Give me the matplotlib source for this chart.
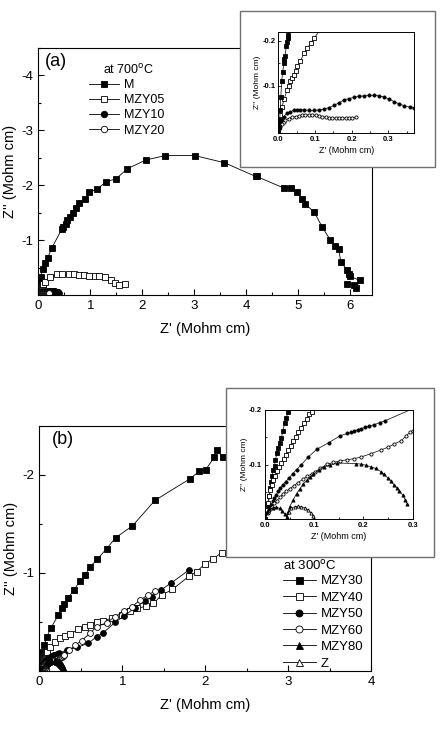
import numpy as np
import matplotlib
matplotlib.use('Agg')
import matplotlib.pyplot as plt
from matplotlib.patches import Rectangle
from matplotlib.ticker import MultipleLocator, FixedLocator

plt.rcParams['font.family'] = ['Liberation Sans', 'DejaVu Sans']
plt.rcParams['axes.unicode_minus'] = False

# ── panel (a) data, 700 C ──────────────────────────────────────────────────────
M_x = [0, 0.002, 0.004, 0.005, 0.007, 0.009, 0.012, 0.015, 0.016, 0.018, 0.022, 0.024,
       0.026, 0.027, 0.05, 0.08, 0.12, 0.18, 0.26, 0.45, 0.48, 0.53, 0.56, 0.61, 0.66,
       0.73, 0.79, 0.89, 0.98, 1.13, 1.30, 1.50, 1.71, 2.07, 2.44, 3.01, 3.58, 4.18,
       4.20, 4.72, 4.87, 4.97, 5.07, 5.13, 5.31, 5.46, 5.62, 5.71, 5.78, 5.82, 5.94,
       5.97, 5.99, 6.18, 6.12, 6.08, 5.94]
M_y = [0, -0.010, -0.025, -0.047, -0.076, -0.110, -0.130, -0.150, -0.159, -0.166, -0.187,
       -0.196, -0.205, -0.212, -0.33, -0.48, -0.58, -0.68, -0.86, -1.20, -1.24, -1.30,
       -1.37, -1.43, -1.50, -1.58, -1.68, -1.74, -1.87, -1.93, -2.06, -2.12, -2.30, -2.46,
       -2.54, -2.54, -2.41, -2.16, -2.16, -1.95, -1.95, -1.87, -1.75, -1.66, -1.51, -1.24,
       -1.00, -0.90, -0.83, -0.60, -0.46, -0.39, -0.34, -0.27, -0.13, -0.18, -0.20]

MZY05_x = [0, 0.002, 0.005, 0.010, 0.016, 0.024, 0.028, 0.033, 0.038, 0.042, 0.047, 0.051,
           0.060, 0.070, 0.079, 0.088, 0.097, 0.13, 0.22, 0.35, 0.45, 0.58, 0.69, 0.78,
           0.88, 0.98, 1.08, 1.17, 1.29, 1.40, 1.48, 1.56, 1.66]
MZY05_y = [0, -0.010, -0.036, -0.054, -0.071, -0.091, -0.100, -0.110, -0.117, -0.124,
           -0.132, -0.143, -0.154, -0.172, -0.183, -0.194, -0.205, -0.24, -0.33, -0.38,
           -0.38, -0.38, -0.38, -0.37, -0.37, -0.35, -0.35, -0.34, -0.32, -0.27, -0.22,
           -0.19, -0.20]

MZY10_x = [0, 0.002, 0.005, 0.010, 0.015, 0.024, 0.033, 0.042, 0.051, 0.060, 0.070, 0.083,
           0.097, 0.111, 0.124, 0.138, 0.152, 0.166, 0.179, 0.193, 0.207, 0.220, 0.234,
           0.248, 0.262, 0.275, 0.289, 0.303, 0.316, 0.330, 0.344, 0.360, 0.371, 0.385, 0.40]
MZY10_y = [0, -0.007, -0.018, -0.025, -0.032, -0.040, -0.043, -0.046, -0.047, -0.047,
           -0.047, -0.046, -0.046, -0.047, -0.049, -0.052, -0.057, -0.063, -0.069, -0.072,
           -0.075, -0.077, -0.078, -0.079, -0.079, -0.078, -0.075, -0.071, -0.065, -0.060,
           -0.056, -0.053, -0.051, -0.048, -0.045]

MZY20_x = [0, 0.002, 0.005, 0.010, 0.015, 0.019, 0.028, 0.038, 0.047, 0.056, 0.065, 0.074,
           0.083, 0.092, 0.102, 0.111, 0.120, 0.129, 0.138, 0.147, 0.156, 0.166, 0.175,
           0.184, 0.193, 0.202, 0.211]
MZY20_y = [0, -0.004, -0.010, -0.016, -0.021, -0.025, -0.028, -0.031, -0.032, -0.034,
           -0.035, -0.035, -0.036, -0.036, -0.035, -0.034, -0.032, -0.031, -0.030, -0.029,
           -0.029, -0.029, -0.029, -0.029, -0.029, -0.030, -0.031]

# ── panel (b) data, 300 C ──────────────────────────────────────────────────────
MZY30_x = [0, 0.0034, 0.0055, 0.0076, 0.0103, 0.0124, 0.0145, 0.0172, 0.0193, 0.0213,
           0.0241, 0.0262, 0.0296, 0.0330, 0.0365, 0.0399, 0.0434, 0.0468, 0.060, 0.088,
           0.137, 0.229, 0.269, 0.302, 0.350, 0.418, 0.490, 0.551, 0.611, 0.700, 0.812,
           0.921, 1.122, 1.395, 1.817, 1.926, 2.006, 2.111, 2.139, 2.211]
MZY30_y = [0, -0.014, -0.026, -0.042, -0.057, -0.069, -0.079, -0.091, -0.098, -0.109,
           -0.121, -0.131, -0.140, -0.149, -0.161, -0.177, -0.186, -0.197, -0.264, -0.342,
           -0.434, -0.569, -0.637, -0.681, -0.749, -0.824, -0.919, -0.976, -1.061, -1.139,
           -1.247, -1.359, -1.478, -1.739, -1.959, -2.034, -2.051, -2.180, -2.254, -2.180]

MZY40_x = [0, 0.004, 0.007, 0.009, 0.011, 0.014, 0.017, 0.021, 0.024, 0.028, 0.033, 0.038,
           0.042, 0.047, 0.052, 0.057, 0.063, 0.067, 0.073, 0.079, 0.085, 0.090, 0.096,
           0.129, 0.189, 0.249, 0.310, 0.370, 0.470, 0.551, 0.611, 0.691, 0.772, 0.880,
           0.993, 1.093, 1.182, 1.286, 1.375, 1.475, 1.604, 1.805, 1.897, 1.998, 2.090, 2.199]
MZY40_y = [0, -0.017, -0.029, -0.042, -0.054, -0.063, -0.072, -0.080, -0.088, -0.096,
           -0.103, -0.110, -0.118, -0.126, -0.134, -0.143, -0.151, -0.160, -0.167, -0.177,
           -0.184, -0.192, -0.197, -0.247, -0.298, -0.332, -0.356, -0.376, -0.424, -0.451,
           -0.468, -0.502, -0.512, -0.540, -0.569, -0.610, -0.637, -0.661, -0.688, -0.773,
           -0.831, -0.966, -1.010, -1.095, -1.139, -1.207]

MZY50_x = [0, 0.006, 0.009, 0.012, 0.016, 0.019, 0.023, 0.026, 0.031, 0.036, 0.042, 0.048,
           0.056, 0.064, 0.074, 0.088, 0.105, 0.129, 0.153, 0.167, 0.174, 0.181, 0.188,
           0.195, 0.203, 0.212, 0.222, 0.233, 0.243, 0.330, 0.458, 0.587, 0.691, 0.772,
           0.913, 1.025, 1.158, 1.278, 1.355, 1.463, 1.592, 1.801]
MZY50_y = [0, -0.014, -0.020, -0.026, -0.033, -0.039, -0.045, -0.051, -0.057, -0.063,
           -0.069, -0.075, -0.083, -0.091, -0.100, -0.114, -0.128, -0.140, -0.153, -0.157,
           -0.159, -0.161, -0.164, -0.166, -0.168, -0.171, -0.173, -0.177, -0.180, -0.214,
           -0.241, -0.281, -0.349, -0.390, -0.495, -0.563, -0.647, -0.712, -0.756, -0.824,
           -0.898, -1.027]

MZY60_x = [0, 0.006, 0.009, 0.014, 0.019, 0.024, 0.030, 0.036, 0.043, 0.050, 0.058, 0.067,
           0.078, 0.086, 0.095, 0.102, 0.112, 0.126, 0.139, 0.153, 0.167, 0.181, 0.195,
           0.215, 0.236, 0.250, 0.263, 0.277, 0.287, 0.294, 0.301, 0.36, 0.43, 0.51, 0.611,
           0.691, 0.812, 0.913, 1.021, 1.114, 1.214, 1.306, 1.395]
MZY60_y = [0, -0.012, -0.017, -0.023, -0.029, -0.034, -0.040, -0.046, -0.051, -0.056,
           -0.061, -0.067, -0.074, -0.079, -0.083, -0.087, -0.093, -0.101, -0.104, -0.107,
           -0.109, -0.111, -0.114, -0.120, -0.127, -0.132, -0.138, -0.144, -0.153, -0.159,
           -0.162, -0.21, -0.26, -0.31, -0.383, -0.451, -0.492, -0.553, -0.614, -0.654,
           -0.722, -0.773, -0.814]

MZY80_x = [0, 0.004, 0.009, 0.016, 0.023, 0.030, 0.035, 0.040, 0.044, 0.047, 0.050, 0.057,
           0.064, 0.071, 0.078, 0.085, 0.092, 0.098, 0.109, 0.119, 0.133, 0.147, 0.184,
           0.195, 0.205, 0.215, 0.225, 0.236, 0.242, 0.249, 0.256, 0.263, 0.268, 0.273,
           0.280, 0.285, 0.289]
MZY80_y = [0, -0.014, -0.018, -0.021, -0.022, -0.020, -0.016, -0.010, -0.004, -0.014,
           -0.023, -0.035, -0.047, -0.056, -0.065, -0.071, -0.077, -0.082, -0.090, -0.096,
           -0.099, -0.103, -0.102, -0.101, -0.099, -0.096, -0.093, -0.087, -0.082, -0.076,
           -0.070, -0.062, -0.058, -0.052, -0.044, -0.035, -0.028]

Z_x = [0.044, 0.048, 0.053, 0.060, 0.067, 0.074, 0.081, 0.088, 0.093, 0.098, 0.100]
Z_y = [0, -0.014, -0.020, -0.023, -0.024, -0.023, -0.021, -0.017, -0.012, -0.006, 0]

series_a = [('M', M_x, M_y, 's', 'k'), ('MZY05', MZY05_x, MZY05_y, 's', 'w'),
            ('MZY10', MZY10_x, MZY10_y, 'o', 'k'), ('MZY20', MZY20_x, MZY20_y, 'o', 'w')]
series_b = [('MZY30', MZY30_x, MZY30_y, 's', 'k'), ('MZY40', MZY40_x, MZY40_y, 's', 'w'),
            ('MZY50', MZY50_x, MZY50_y, 'o', 'k'), ('MZY60', MZY60_x, MZY60_y, 'o', 'w'),
            ('MZY80', MZY80_x, MZY80_y, '^', 'k'), ('Z', Z_x, Z_y, '^', 'w')]

W, H = 442, 735
fig = plt.figure(figsize=(W / 100, H / 100), dpi=100)


def rect(l, t, r, b):
    # pixel box -> figure fraction
    return [l / W, 1 - b / H, (r - l) / W, (b - t) / H]


def plot_series(ax, series, ms, lw):
    handles = []
    for name, x, y, mk, fc in series:
        h, = ax.plot(x, y, color='k', lw=lw, marker=mk, ms=ms, mfc=fc, mec='k',
                     mew=0.6, label=name)
        handles.append(h)
    return handles


def style_main(ax, xmax, ymin, yticks):
    ax.xaxis.set_major_locator(MultipleLocator(1))
    ax.xaxis.set_minor_locator(MultipleLocator(0.5))
    ax.yaxis.set_major_locator(FixedLocator(yticks))
    ax.yaxis.set_minor_locator(MultipleLocator(0.5))
    ax.set_xlim(0, xmax)
    ax.set_ylim(0, ymin)
    ax.tick_params(which='both', direction='in', labelsize=9.5)
    ax.tick_params(which='major', length=4, width=0.8)
    ax.tick_params(which='minor', length=2.5, width=0.8)
    ax.set_xlabel("Z' (Mohm cm)", fontsize=10.5, labelpad=7)
    ax.set_ylabel("Z'' (Mohm cm)", fontsize=10.5, labelpad=3)
    for s in ax.spines.values():
        s.set_linewidth(0.8)


def style_inset(ax, xmax, ymin, ybot):
    ax.set_xticks([0.0, 0.1, 0.2, 0.3])
    ax.set_xticklabels(['0.0', '0.1', '0.2', '0.3'])
    ax.set_yticks([-0.2, -0.1])
    ax.set_yticklabels(['-0.2', '-0.1'])
    ax.xaxis.set_minor_locator(MultipleLocator(0.05))
    ax.yaxis.set_minor_locator(MultipleLocator(0.05))
    ax.set_xlim(0, xmax)
    ax.set_ylim(ybot, ymin)
    ax.tick_params(which='both', direction='in', labelsize=5.5, pad=2)
    ax.tick_params(which='major', length=2.5, width=0.6)
    ax.tick_params(which='minor', length=1.5, width=0.6)
    for lab in ax.get_xticklabels() + ax.get_yticklabels():
        lab.set_fontweight('bold')
    ax.set_xlabel("Z' (Mohm cm)", fontsize=6.5, labelpad=2)
    ax.set_ylabel("Z'' (Mohm cm)", fontsize=6, labelpad=1)
    for s in ax.spines.values():
        s.set_linewidth(0.7)


# ── (a) main ───────────────────────────────────────────────────────────────────
ax_a = fig.add_axes(rect(38.4, 48, 372, 295))
hs = plot_series(ax_a, series_a, ms=4.2, lw=0.6)
style_main(ax_a, 6.42, -4.5, [-4, -3, -2, -1])
fig.text(45 / W, 1 - 62 / H, '(a)', fontsize=13, va='center', ha='left')
fig.text(103 / W, 1 - 70 / H, 'at 700$^{\\rm o}$C', fontsize=9, va='center', ha='left')
ax_a.legend(handles=hs, loc='upper left', bbox_to_anchor=(89 / W, 1 - 79 / H),
            bbox_transform=fig.transFigure, frameon=False, fontsize=9, numpoints=1,
            handlelength=2.4, handletextpad=0.4, labelspacing=0.26, borderpad=0,
            borderaxespad=0, markerscale=1.1)

fig.add_artist(Rectangle((240 / W, 1 - 167 / H), 195 / W, 156 / H, transform=fig.transFigure,
                         facecolor='white', edgecolor='#707070', lw=1.0, zorder=1))
ins_a = fig.add_axes(rect(278.3, 32, 414, 133))
ins_a.set_zorder(2)
plot_series(ins_a, series_a[1:] + series_a[:1], ms=2.3, lw=0.5)
style_inset(ins_a, 0.37, -0.219, 0.004)

# ── (b) main ───────────────────────────────────────────────────────────────────
ax_b = fig.add_axes(rect(39.3, 425.7, 371, 671))
hs = plot_series(ax_b, series_b, ms=4.2, lw=0.6)
style_main(ax_b, 4.0, -2.5, [-2, -1])
fig.text(52 / W, 1 - 440 / H, '(b)', fontsize=13, va='center', ha='left')
fig.text(283 / W, 1 - 566 / H, 'at 300$^{\\rm o}$C', fontsize=9.5, va='center', ha='left')
ax_b.legend(handles=hs, loc='upper left', bbox_to_anchor=(283 / W, 1 - 575 / H),
            bbox_transform=fig.transFigure, frameon=False, fontsize=9.5, numpoints=1,
            handlelength=2.5, handletextpad=0.35, labelspacing=0.32, borderpad=0,
            borderaxespad=0, markerscale=1.2)

fig.add_artist(Rectangle((225.7 / W, 1 - 556.7 / H), 208.6 / W, 168.4 / H,
                         transform=fig.transFigure, facecolor='white',
                         edgecolor='#707070', lw=1.0, zorder=1))
ins_b = fig.add_axes(rect(265, 410, 412.7, 519.3))
ins_b.set_zorder(2)
plot_series(ins_b, series_b, ms=2.3, lw=0.5)
style_inset(ins_b, 0.3, -0.2, 0.0)

fig.savefig('out.png', dpi=100)
